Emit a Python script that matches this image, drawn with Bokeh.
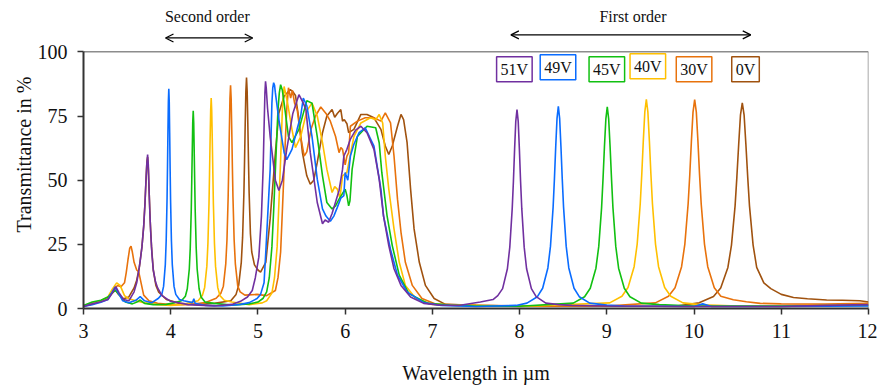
from bokeh.plotting import figure
from bokeh.models import Label, Arrow, OpenHead
from bokeh.embed import file_html
from bokeh.resources import INLINE

# ---------------- data ----------------
labels = ["0V", "30V", "40V", "45V", "49V", "51V"]
colors = ["#a0520f", "#e8720c", "#ffc000", "#11c011", "#0a6cff", "#7030a0"]

x_0v = [3.00, 3.10, 3.20, 3.28, 3.33, 3.365, 3.40, 3.46, 3.52, 3.58, 3.61, 3.64, 3.67, 3.69, 3.705, 3.718,
        3.728, 3.735, 3.744, 3.752, 3.765, 3.78, 3.80, 3.83, 3.86, 3.95, 4.10, 4.30, 4.50, 4.689, 4.749, 4.779,
        4.809, 4.824, 4.839, 4.8465, 4.854, 4.8615, 4.869, 4.8765, 4.884, 4.8915, 4.899, 4.914, 4.929, 4.96, 5.00, 5.03,
        5.09, 5.14, 5.20, 5.24, 5.30, 5.37, 5.40, 5.43, 5.47, 5.51, 5.56, 5.60, 5.64, 5.68, 5.74, 5.79,
        5.85, 5.88, 5.91, 5.95, 5.97, 5.99, 6.02, 6.04, 6.10, 6.18, 6.25, 6.33, 6.41, 6.46, 6.50, 6.54,
        6.60, 6.64, 6.67, 6.71, 6.75, 6.79, 6.85, 6.92, 7.02, 7.15, 7.50, 8.00, 9.00, 9.80, 10.058, 10.223,
        10.3055, 10.388, 10.429, 10.4705, 10.491, 10.512, 10.532, 10.553, 10.574, 10.594, 10.615, 10.6355, 10.677, 10.718, 10.80, 10.88,
        11.00, 11.14, 11.30, 11.52, 11.70, 11.90, 12.00]
y_0v = [1.0, 1.8, 2.8, 4.0, 6.0, 7.2, 5.5, 3.8, 4.5, 8.0, 11.0, 16.0, 24.0, 32.0, 41.0, 51.0,
        57.5, 59.0, 54.0, 46.0, 34.0, 24.0, 15.0, 9.0, 6.5, 3.5, 2.0, 1.5, 2.0, 3.0, 5.5, 9.0,
        18.0, 27.7, 45.0, 57.6, 72.0, 84.6, 90.0, 84.6, 72.0, 57.6, 45.0, 29.0, 22.0, 17.0, 15.0, 14.2,
        18.0, 34.9, 60.7, 76.2, 82.7, 85.3, 84.5, 83.0, 73.6, 60.7, 51.7, 48.4, 50.0, 56.9, 68.5, 75.0,
        77.5, 74.5, 76.0, 77.5, 73.0, 73.6, 72.0, 68.5, 69.8, 75.6, 75.6, 74.3, 69.8, 63.3, 60.0, 63.3,
        71.0, 75.6, 73.6, 64.6, 46.5, 31.0, 18.0, 9.0, 3.9, 1.6, 1.2, 1.0, 0.9, 1.0, 2.2, 4.7,
        8.0, 16.0, 24.7, 40.0, 51.3, 64.1, 75.3, 80.1, 75.3, 64.1, 51.3, 40.0, 24.7, 16.0, 10.0, 7.75,
        5.5, 4.3, 3.8, 3.3, 3.2, 3.0, 2.5]

x_30v = [3.00, 3.10, 3.20, 3.28, 3.34, 3.39, 3.43, 3.47, 3.49, 3.51, 3.53, 3.545, 3.56, 3.58, 3.61, 3.634,
         3.66, 3.69, 3.75, 3.85, 4.00, 4.20, 4.40, 4.521, 4.576, 4.6035, 4.631, 4.645, 4.6585, 4.6654, 4.6723, 4.6791,
         4.686, 4.6929, 4.6998, 4.7066, 4.7135, 4.727, 4.741, 4.7685, 4.796, 4.85, 4.99, 5.10, 5.20, 5.23, 5.26, 5.28,
         5.30, 5.32, 5.33, 5.35, 5.375, 5.395, 5.42, 5.45, 5.49, 5.53, 5.56, 5.61, 5.66, 5.72, 5.78, 5.83,
         5.89, 5.93, 5.95, 5.97, 6.00, 6.02, 6.04, 6.06, 6.14, 6.23, 6.33, 6.41, 6.46, 6.52, 6.56, 6.60,
         6.64, 6.69, 6.77, 6.88, 7.05, 8.00, 9.00, 9.557, 9.707, 9.782, 9.857, 9.8945, 9.932, 9.951, 9.9695, 9.988,
         10.007, 10.026, 10.0445, 10.063, 10.082, 10.1195, 10.157, 10.232, 10.307, 10.45, 10.60, 10.76, 11.00, 11.50, 12.00]
y_30v = [1.0, 2.0, 3.0, 4.2, 7.0, 9.0, 8.5, 10.0, 14.0, 19.0, 23.5, 24.3, 22.0, 18.0, 15.0, 14.2,
         10.0, 5.2, 3.0, 2.0, 1.5, 1.5, 2.3, 4.0, 6.0, 8.7, 17.4, 26.8, 43.5, 55.7, 69.6, 81.8,
         87.0, 81.8, 69.6, 55.7, 43.5, 26.8, 17.4, 8.7, 6.5, 5.2, 5.5, 5.0, 7.0, 12.0, 22.0, 38.0,
         54.3, 70.0, 77.5, 86.0, 82.0, 85.0, 80.0, 77.5, 67.0, 59.4, 61.0, 70.0, 75.0, 78.5, 76.0, 73.0,
         67.0, 60.7, 62.7, 62.0, 56.0, 59.4, 60.7, 71.0, 73.0, 74.3, 74.3, 73.0, 76.2, 72.3, 59.4, 42.6,
         29.7, 18.0, 9.0, 3.9, 1.6, 0.9, 1.0, 2.2, 4.8, 8.1, 16.3, 25.1, 40.7, 52.1, 65.1, 76.5,
         81.4, 76.5, 65.1, 52.1, 40.7, 25.1, 16.3, 8.1, 4.8, 3.4, 2.6, 2.0, 1.8, 1.7, 2.0]

x_40v = [3.00, 3.10, 3.20, 3.28, 3.33, 3.38, 3.42, 3.47, 3.52, 3.60, 3.70, 3.85, 4.00, 4.15, 4.25, 4.314,
         4.364, 4.389, 4.414, 4.4265, 4.439, 4.445, 4.4515, 4.458, 4.464, 4.470, 4.4765, 4.483, 4.489, 4.5015, 4.514, 4.539,
         4.564, 4.614, 4.70, 4.90, 5.05, 5.10, 5.16, 5.19, 5.22, 5.245, 5.26, 5.28, 5.30, 5.34, 5.39, 5.43,
         5.49, 5.56, 5.62, 5.68, 5.74, 5.79, 5.85, 5.88, 5.91, 5.94, 5.97, 6.02, 6.06, 6.10, 6.18, 6.29,
         6.35, 6.39, 6.43, 6.46, 6.50, 6.56, 6.62, 6.69, 6.81, 7.00, 8.00, 9.033, 9.173, 9.243, 9.313, 9.348,
         9.383, 9.4005, 9.418, 9.4355, 9.453, 9.4705, 9.488, 9.5055, 9.523, 9.558, 9.593, 9.663, 9.733, 9.873, 10.10, 10.50,
         11.00, 12.00]
y_40v = [1.0, 2.2, 3.0, 4.5, 7.5, 10.0, 9.0, 5.0, 3.8, 3.0, 2.2, 1.5, 1.2, 1.6, 2.5, 3.0,
         5.2, 8.2, 16.4, 25.3, 41.0, 52.5, 65.6, 77.1, 82.0, 77.1, 65.6, 52.5, 41.0, 25.3, 16.4, 8.2,
         5.0, 3.2, 2.5, 1.5, 2.2, 3.0, 6.0, 12.0, 24.0, 45.0, 58.0, 77.5, 86.5, 80.0, 69.8, 62.7,
         67.0, 77.0, 80.0, 75.0, 64.6, 54.3, 45.2, 47.5, 46.5, 43.0, 51.7, 53.0, 60.0, 67.0, 72.3, 74.3,
         73.5, 75.6, 72.3, 59.4, 46.5, 31.0, 18.0, 9.0, 3.9, 1.6, 0.8, 2.2, 4.8, 8.2, 16.3, 25.1,
         40.8, 52.2, 65.2, 76.6, 81.5, 76.6, 65.2, 52.2, 40.8, 25.1, 16.3, 8.2, 4.8, 2.2, 1.4, 1.0,
         1.0, 1.5]

x_45v = [3.00, 3.10, 3.20, 3.28, 3.34, 3.37, 3.42, 3.48, 3.56, 3.62, 3.65, 3.70, 3.80, 3.95, 4.05, 4.123,
         4.168, 4.19, 4.213, 4.224, 4.2355, 4.241, 4.247, 4.2524, 4.258, 4.2636, 4.269, 4.275, 4.2805, 4.292, 4.303, 4.3255,
         4.348, 4.393, 4.50, 4.70, 4.90, 5.00, 5.06, 5.10, 5.13, 5.16, 5.18, 5.20, 5.22, 5.23, 5.245, 5.26,
         5.28, 5.30, 5.35, 5.39, 5.47, 5.56, 5.62, 5.68, 5.74, 5.79, 5.85, 5.89, 5.93, 6.00, 6.02, 6.04,
         6.055, 6.08, 6.14, 6.25, 6.35, 6.39, 6.42, 6.48, 6.54, 6.62, 6.73, 6.95, 7.20, 7.50, 8.00, 8.615,
         8.745, 8.81, 8.875, 8.9075, 8.94, 8.956, 8.9725, 8.989, 9.005, 9.021, 9.0375, 9.054, 9.07, 9.1025, 9.135, 9.20,
         9.265, 9.395, 9.60, 10.00, 11.00, 12.00]
y_45v = [1.2, 2.5, 3.2, 4.5, 6.5, 7.0, 5.0, 2.5, 1.8, 2.6, 3.3, 2.0, 1.5, 1.6, 2.3, 3.0,
         4.8, 7.7, 15.4, 23.7, 38.5, 49.3, 61.6, 72.4, 77.0, 72.4, 61.6, 49.3, 38.5, 23.7, 15.4, 7.7,
         4.5, 2.5, 2.0, 1.3, 1.8, 2.5, 4.0, 6.5, 12.0, 24.0, 38.0, 54.0, 70.0, 77.5, 84.0, 87.2,
         85.0, 80.0, 67.0, 64.6, 69.8, 81.0, 80.0, 67.0, 51.7, 41.3, 38.8, 40.0, 42.6, 46.5, 44.0, 40.0,
         42.0, 54.3, 67.0, 71.0, 70.4, 64.6, 53.0, 36.2, 24.5, 13.0, 5.8, 2.0, 1.3, 1.0, 0.9, 2.1,
         4.6, 7.9, 15.7, 24.2, 39.3, 50.3, 62.9, 73.9, 78.6, 73.9, 62.9, 50.3, 39.3, 24.2, 15.7, 7.9,
         4.6, 2.1, 1.5, 1.0, 1.0, 1.2]

x_49v = [3.00, 3.10, 3.20, 3.28, 3.33, 3.36, 3.40, 3.45, 3.52, 3.60, 3.65, 3.70, 3.78, 3.86, 3.898, 3.918,
         3.938, 3.948, 3.958, 3.963, 3.968, 3.973, 3.978, 3.983, 3.988, 3.993, 3.998, 4.008, 4.018, 4.038, 4.058, 4.10,
         4.15, 4.25, 4.265, 4.28, 4.40, 4.60, 4.80, 4.90, 4.99, 5.03, 5.07, 5.09, 5.11, 5.14, 5.16, 5.17,
         5.18, 5.19, 5.20, 5.24, 5.30, 5.33, 5.39, 5.45, 5.49, 5.52, 5.56, 5.62, 5.68, 5.74, 5.78, 5.83,
         5.87, 5.91, 5.95, 5.985, 6.00, 6.03, 6.06, 6.10, 6.16, 6.23, 6.33, 6.41, 6.44, 6.52, 6.60, 6.71,
         6.90, 7.10, 7.50, 7.96, 8.084, 8.204, 8.264, 8.324, 8.354, 8.384, 8.399, 8.414, 8.429, 8.444, 8.459, 8.474,
         8.489, 8.504, 8.534, 8.564, 8.624, 8.684, 8.804, 9.00, 9.20, 10.00, 10.10, 10.20, 11.00, 12.00]
y_49v = [0.8, 1.5, 2.4, 3.5, 6.5, 8.3, 6.0, 3.0, 2.2, 3.2, 4.6, 3.0, 2.2, 4.0, 5.5, 8.6,
         17.1, 26.4, 42.8, 54.8, 68.5, 80.5, 85.6, 80.5, 68.5, 54.8, 42.8, 26.4, 17.1, 8.6, 5.5, 3.5,
         3.0, 2.3, 3.8, 2.0, 1.2, 1.0, 1.6, 2.3, 3.9, 5.5, 10.0, 22.0, 35.0, 54.0, 80.0, 86.0,
         88.0, 87.0, 84.0, 73.6, 60.7, 58.0, 62.0, 70.0, 75.0, 82.0, 79.0, 67.0, 50.4, 38.8, 36.0, 34.0,
         36.0, 39.4, 43.0, 44.0, 53.0, 50.0, 59.4, 64.0, 68.5, 70.4, 63.3, 46.5, 36.0, 23.0, 13.0, 6.5,
         2.3, 1.2, 0.8, 1.2, 2.1, 4.6, 7.9, 15.8, 24.3, 39.4, 50.4, 63.0, 74.1, 78.8, 74.1, 63.0,
         50.4, 39.4, 24.3, 15.8, 7.9, 4.6, 2.1, 1.3, 1.0, 0.8, 1.8, 0.8, 0.8, 1.0]

x_51v = [3.00, 3.10, 3.20, 3.28, 3.33, 3.37, 3.41, 3.46, 3.52, 3.58, 3.61, 3.63, 3.65, 3.67, 3.69, 3.705,
         3.715, 3.725, 3.735, 3.743, 3.75, 3.76, 3.77, 3.785, 3.80, 3.825, 3.85, 3.90, 4.00, 4.20, 4.50, 4.70,
         4.80, 4.88, 4.935, 4.97, 5.01, 5.04, 5.06, 5.07, 5.08, 5.087, 5.095, 5.11, 5.14, 5.20, 5.24, 5.28,
         5.33, 5.40, 5.47, 5.52, 5.55, 5.60, 5.68, 5.74, 5.77, 5.81, 5.85, 5.89, 5.93, 5.97, 5.985, 6.02,
         6.06, 6.12, 6.18, 6.25, 6.33, 6.39, 6.44, 6.50, 6.56, 6.64, 6.75, 6.90, 7.09, 7.30, 7.55, 7.695,
         7.75, 7.805, 7.86, 7.8875, 7.915, 7.929, 7.9425, 7.956, 7.97, 7.984, 7.9975, 8.011, 8.025, 8.0525, 8.08, 8.135,
         8.19, 8.30, 8.45, 8.60, 9.00, 10.00, 11.00, 11.50, 12.00]
y_51v = [0.8, 1.8, 2.6, 3.5, 6.0, 8.5, 6.0, 3.5, 3.0, 6.5, 10.0, 14.0, 18.5, 24.0, 32.0, 41.0,
         49.0, 56.0, 60.0, 56.0, 48.0, 38.0, 30.0, 21.0, 15.0, 10.5, 8.0, 5.0, 2.8, 1.5, 1.0, 1.6,
         2.8, 4.5, 7.0, 12.0, 20.0, 36.0, 55.0, 70.0, 84.0, 88.5, 86.0, 78.0, 67.0, 50.0, 46.0, 50.0,
         62.0, 76.0, 83.3, 80.0, 77.5, 60.7, 41.3, 33.0, 34.5, 33.6, 37.0, 41.5, 46.0, 54.3, 59.4, 62.0,
         66.0, 69.5, 71.0, 68.5, 62.0, 50.4, 36.0, 24.5, 15.5, 9.0, 4.5, 2.0, 1.3, 1.2, 2.5, 3.5,
         5.0, 7.75, 15.5, 23.9, 38.8, 49.6, 62.0, 72.9, 77.5, 72.9, 62.0, 49.6, 38.8, 23.9, 15.5, 7.75,
         4.6, 2.1, 1.5, 1.2, 1.0, 0.8, 0.8, 1.2, 1.5]

series_x = [x_0v, x_30v, x_40v, x_45v, x_49v, x_51v]
series_y = [y_0v, y_30v, y_40v, y_45v, y_49v, y_51v]

x_ticks = [3, 4, 5, 6, 7, 8, 9, 10, 11, 12]
y_ticks = [0, 25, 50, 75, 100]

# ---------------- figure ----------------
SERIF = "Liberation Serif"
FRAME = "#8c8c8c"
p = figure(width=877, height=386, x_range=(3, 12), y_range=(0, 120),
           output_backend="svg", toolbar_location=None,
           min_border_left=83, min_border_right=9, min_border_top=0, min_border_bottom=76)
p.background_fill_color = "white"
p.border_fill_color = "white"
p.outline_line_color = None
p.xgrid.visible = False
p.ygrid.visible = False

# plot-box top and right edges (frame ends at 100 %)
p.segment(x0=[3, 12], y0=[100, 0], x1=[12, 12], y1=[100, 100], line_color=FRAME, line_width=1.5)

for xs, ys, c in zip(series_x, series_y, colors):
    p.line(xs, ys, line_color=c, line_width=1.6)

for ax in (p.xaxis[0], p.yaxis[0]):
    ax.axis_line_color = "#333333"
    ax.axis_line_width = 2
    ax.major_tick_line_color = "#333333"
    ax.major_tick_line_width = 1.5
    ax.major_tick_out = 6
    ax.major_tick_in = 0
    ax.minor_tick_line_color = None
    ax.major_label_text_font = SERIF
    ax.major_label_text_font_size = "20px"
    ax.major_label_text_color = "#111111"
    ax.axis_label_text_font = SERIF
    ax.axis_label_text_font_size = "20px"
    ax.axis_label_text_font_style = "normal"
    ax.axis_label_text_color = "#111111"

p.yaxis.bounds = (0, 100)
p.xaxis.ticker = x_ticks
p.yaxis.ticker = y_ticks
p.xaxis.axis_label = "Wavelength in µm"
p.yaxis.axis_label = "Transmittance in %"
p.xaxis.major_label_standoff = 9
p.xaxis.axis_label_standoff = 21
p.yaxis.major_label_standoff = 10
p.yaxis.axis_label_standoff = 0

# legend boxes
legend_pos = {"51V": (7.94, 93.2), "49V": (8.44, 94.0), "45V": (9.0, 93.2),
              "40V": (9.47, 94.4), "30V": (10.0, 93.2), "0V": (10.59, 93.2)}
for lab, c in zip(labels, colors):
    lx, ly = legend_pos[lab]
    p.add_layout(Label(x=lx, y=ly, text=lab, text_align="center", text_baseline="middle",
                       text_font=SERIF, text_font_size="16px", text_color="#111111",
                       border_line_color=c, border_line_width=1.5,
                       background_fill_color="white", padding=4))

# order annotations above the plot box
p.add_layout(Label(x=4.42, y=113.6, text="Second order", text_align="center", text_baseline="middle",
                   text_font=SERIF, text_font_size="16px", text_color="#111111"))
p.add_layout(Arrow(start=OpenHead(size=8, line_width=1.2), end=OpenHead(size=8, line_width=1.2),
                   x_start=3.94, y_start=105.4, x_end=4.94, y_end=105.4, line_width=1.2))
p.add_layout(Label(x=9.3, y=113.6, text="First order", text_align="center", text_baseline="middle",
                   text_font=SERIF, text_font_size="16px", text_color="#111111"))
p.add_layout(Arrow(start=OpenHead(size=8, line_width=1.2), end=OpenHead(size=8, line_width=1.2),
                   x_start=7.9, y_start=106.6, x_end=10.65, y_end=106.6, line_width=1.2))

open("out.html", "w").write(file_html(p, INLINE))
